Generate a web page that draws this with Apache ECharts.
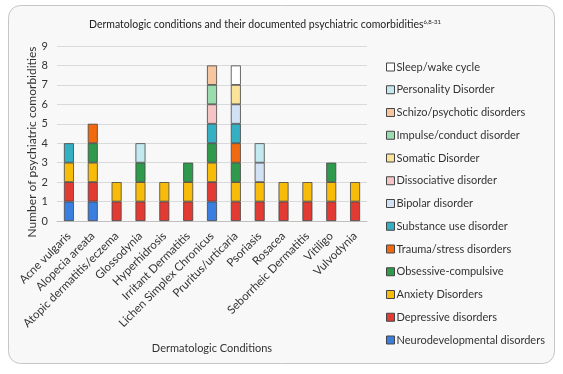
<!DOCTYPE html>
<html><head><meta charset="utf-8">
<script src="https://cdn.jsdelivr.net/npm/echarts@6/dist/echarts.min.js"></script>
<style>html,body{margin:0;padding:0;background:#fff}#c{width:563px;height:374px}</style>
</head><body><div id="c"></div>
<script>
const categories = ["Acne vulgaris","Alopecia areata","Atopic dermatitis/eczema","Glossodynia","Hyperhidrosis","Irritant Dermatitis","Lichen Simplex Chronicus","Pruritus/urticaria","Psoriasis","Rosacea","Seborrheic Dermatitis","Vitiligo","Vulvodynia"];
const yTicks = [0,1,2,3,4,5,6,7,8,9];
const neurodevelopmental = [1,1,0,0,0,0,1,0,0,0,0,0,0];
const depressive        = [1,1,1,1,1,1,1,1,1,1,1,1,1];
const anxiety           = [1,1,1,1,1,1,1,1,1,1,1,1,1];
const obsessive         = [0,1,0,1,0,1,1,1,0,0,0,1,0];
const trauma            = [0,1,0,0,0,0,0,1,0,0,0,0,0];
const substance         = [1,0,0,0,0,0,1,1,0,0,0,0,0];
const bipolar           = [0,0,0,0,0,0,0,1,1,0,0,0,0];
const dissociative      = [0,0,0,0,0,0,1,0,0,0,0,0,0];
const somatic           = [0,0,0,0,0,0,0,1,0,0,0,0,0];
const impulse           = [0,0,0,0,0,0,1,0,0,0,0,0,0];
const schizo            = [0,0,0,0,0,0,1,0,0,0,0,0,0];
const personality       = [0,0,0,1,0,0,0,0,1,0,0,0,0];
const sleepWake         = [0,0,0,0,0,0,0,1,0,0,0,0,0];

const seriesDefs = [
  ["Neurodevelopmental disorders", neurodevelopmental, "#3a7fe0"],
  ["Depressive disorders", depressive, "#e23b34"],
  ["Anxiety Disorders", anxiety, "#f7bc0a"],
  ["Obsessive-compulsive", obsessive, "#2f9a4c"],
  ["Trauma/stress disorders", trauma, "#f26a10"],
  ["Substance use disorder", substance, "#35b0c2"],
  ["Bipolar disorder", bipolar, "#d2e2f4"],
  ["Dissociative disorder", dissociative, "#f5c4c4"],
  ["Somatic Disorder", somatic, "#fbe49a"],
  ["Impulse/conduct disorder", impulse, "#9bdcae"],
  ["Schizo/psychotic disorders", schizo, "#f6c6a0"],
  ["Personality Disorder", personality, "#c3e9ef"],
  ["Sleep/wake cycle", sleepWake, "#ffffff"]
];

const font = "Lato, 'Open Sans', sans-serif";
const chart = echarts.init(document.getElementById('c'), null, {renderer:'canvas'});
chart.setOption({
  animation: false,
  backgroundColor: '#ffffff',
  graphic: [{
    type: 'rect', z: -10, silent: true,
    shape: {x: 8.5, y: 5.5, width: 546, height: 358, r: 12},
    style: {fill: '#f8f8f8', stroke: '#c6c6c6', lineWidth: 1}
  }, {
    type: 'text', silent: true, x: 32, y: 142, rotation: Math.PI / 2,
    style: {text: 'Number of psychiatric comorbidities', fontFamily: font, fontSize: 12,
            fill: '#333', align: 'center', verticalAlign: 'middle'}
  }],
  title: {
    text: '{a|Dermatologic conditions and their documented psychiatric comorbidities}{s|6,8-31}',
    left: 260, top: 14, textAlign: 'center',
    textStyle: {
      fontWeight: 'normal',
      rich: {
        a: {fontFamily: font, fontSize: 10.5, color: '#222', fontWeight: 'normal'},
        s: {fontFamily: font, fontSize: 6, color: '#222', fontWeight: 'normal', verticalAlign: 'top', padding: [0,0,5,0]}
      }
    }
  },
  legend: {
    orient: 'vertical', left: 381, top: 56,
    data: seriesDefs.map(d => d[0]).reverse(),
    itemWidth: 8, itemHeight: 8, itemGap: 10.75, icon: 'rect',
    itemStyle: {borderColor: '#444', borderWidth: 1},
    textStyle: {fontFamily: font, fontSize: 11, color: '#333', lineHeight: 12, padding: [0,0,0,-3]}
  },
  grid: {left: 57, right: 196, top: 46, bottom: 153},
  xAxis: {
    type: 'category', data: categories,
    name: 'Dermatologic Conditions', nameLocation: 'middle', nameGap: 122,
    nameTextStyle: {fontFamily: font, fontSize: 11, color: '#333'},
    axisLine: {lineStyle: {color: '#bfbfbf'}},
    axisTick: {show: false},
    axisLabel: {rotate: 45, interval: 0, fontFamily: font, fontSize: 11.5, color: '#333', margin: 13}
  },
  yAxis: {
    type: 'value', min: yTicks[0], max: yTicks[yTicks.length-1], interval: 1,
    axisLine: {show: false}, axisTick: {show: false},
    axisLabel: {fontFamily: font, fontSize: 11, color: '#333', margin: 9},
    splitLine: {lineStyle: {color: '#d9d9d9'}}
  },
  series: seriesDefs.map(([name, vals, color]) => ({
    name, type: 'bar', stack: 'total', barWidth: 10,
    itemStyle: {color, borderColor: '#444', borderWidth: 0.8},
    emphasis: {disabled: true},
    data: vals.map(v => v === 0 ? '-' : v)
  }))
});
</script></body></html>
